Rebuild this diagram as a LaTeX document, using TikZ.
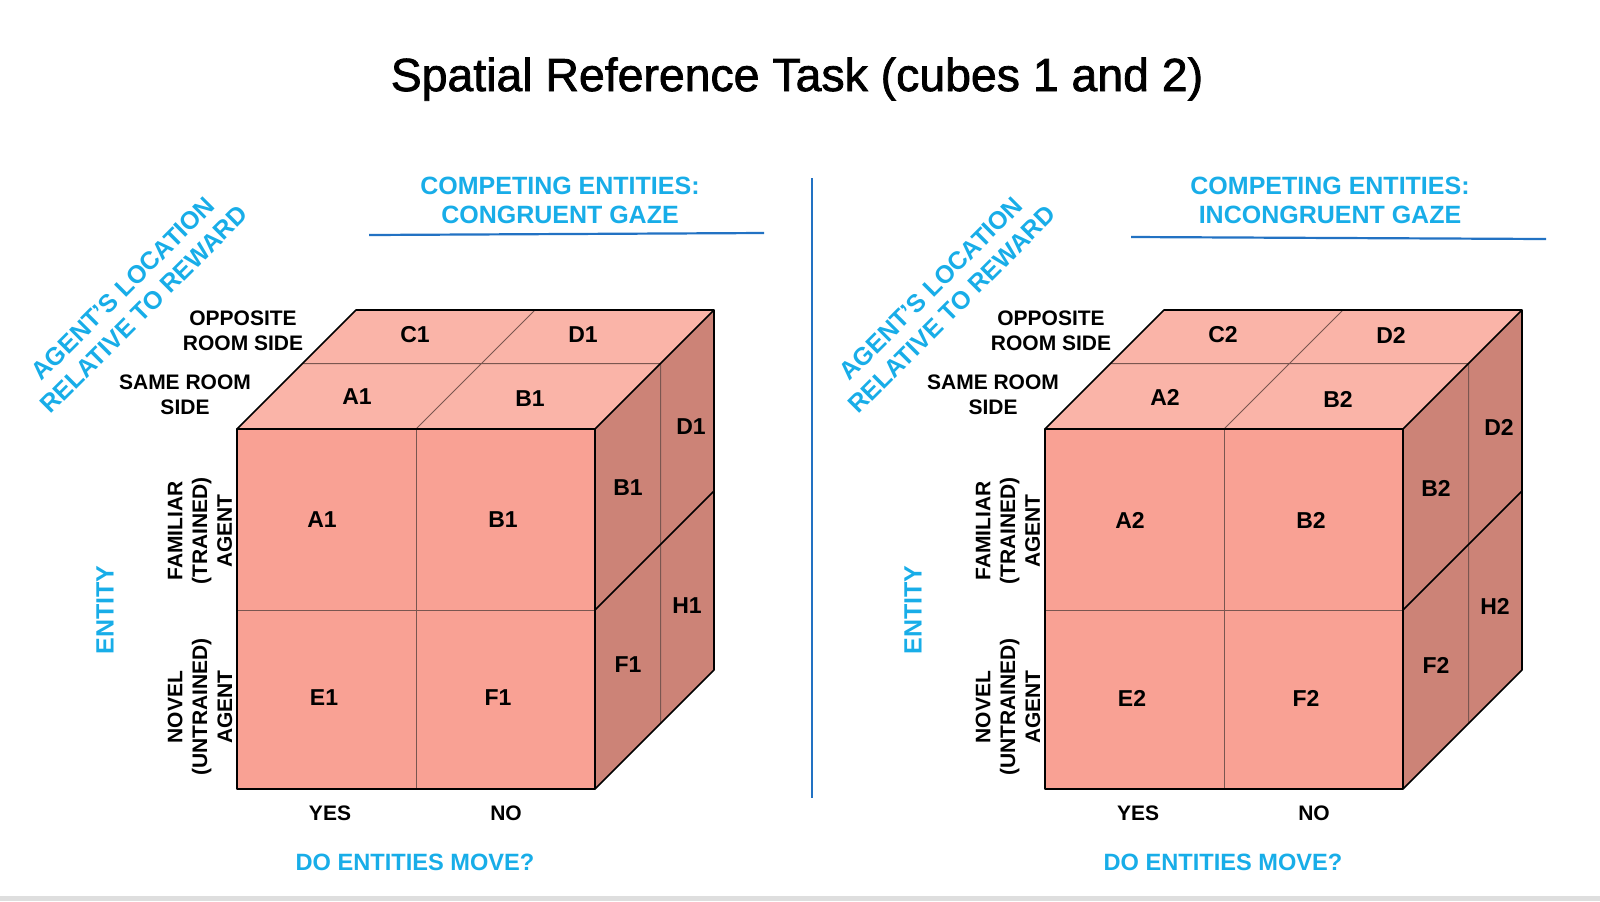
\documentclass[tikz,border=0pt]{standalone}
\usepackage{fontspec}
\setmainfont{Liberation Sans}
\newfontfamily\titlefont[FakeBold=1.6]{Liberation Sans}
\definecolor{frontface}{HTML}{F9A194}
\definecolor{topface}{HTML}{FAB4A8}
\definecolor{sideface}{HTML}{CC8377}
\definecolor{gridline}{HTML}{7A5650}
\definecolor{entblue}{HTML}{18ADE8}
\definecolor{ruleblue}{HTML}{2272C3}

\begin{document}
\begin{tikzpicture}[x=0.5pt, y=-0.5pt,
  lab/.style={font=\bfseries\fontsize{10.5}{12.4}\selectfont, align=center, inner sep=0},
  cell/.style={font=\bfseries\fontsize{11.5}{13}\selectfont, inner sep=0},
  axis/.style={font=\bfseries\fontsize{12.5}{14.8}\selectfont, text=entblue, align=center, inner sep=0},
  cubeedge/.style={draw=black, line width=0.8pt, line join=round},
  innerline/.style={draw=gridline, line width=0.5pt},
  blueline/.style={draw=ruleblue, line width=1.1pt}]
  \useasboundingbox (0,0) rectangle (1600,901);
  \fill[black!13] (0,896) rectangle (1600,901);

  \node[font=\titlefont\fontsize{23.2}{27}\selectfont, anchor=base] (title) at (797,91) {Spatial Reference Task (cubes 1 and 2)};

  \foreach \c/\dx/\hx/\gaze/\la/\lb/\ra/\rb in {1/0/560/CONGRUENT/369/235/764/233, 2/808/1330/INCONGRUENT/1131/237/1546/239} {
    \node[axis] (head\c) at (\hx,200.5) {COMPETING ENTITIES:\\\gaze\ GAZE};
    \draw[blueline] (\la,\lb) -- (\ra,\rb);
    \begin{scope}[shift={(\dx,0)}]
      \fill[frontface] (237,429) rectangle (595,789);
      \fill[topface] (237,429) -- (356,310) -- (714,310) -- (595,429) -- cycle;
      \fill[sideface] (595,429) -- (714,310) -- (714,670) -- (595,789) -- cycle;
      \draw[innerline] (416,429) -- (416,789) (237,610) -- (595,610);
      \draw[innerline] (416,429) -- (535,310) (302.5,363.5) -- (660.5,363.5) -- (660.5,723.5);
      \draw[cubeedge] (595,610) -- (714,491);
      \draw[cubeedge] (237,429) rectangle (595,789);
      \draw[cubeedge] (237,429) -- (356,310) -- (714,310) -- (714,670) -- (595,789) (595,429) -- (714,310);

      \node[cell] (tc\c) at (415,335) {C\c};
      \node[cell] (td\c) at (583,335) {D\c};
      \node[cell] (ta\c) at (357,397) {A\c};
      \node[cell] (tb\c) at (530,399) {B\c};
      \node[cell] (fa\c) at (322,520) {A\c};
      \node[cell] (fb\c) at (503,520) {B\c};
      \node[cell] (fe\c) at (324,698) {E\c};
      \node[cell] (ff\c) at (498,698) {F\c};
      \node[cell] (sd\c) at (691,427) {D\c};
      \node[cell] (sb\c) at (628,488) {B\c};
      \node[cell] (sh\c) at (687,606) {H\c};
      \node[cell] (sf\c) at (628,665) {F\c};

      \node[lab] (opp\c) at (243,331) {OPPOSITE\\ROOM SIDE};
      \node[lab] (same\c) at (185,395) {SAME ROOM\\SIDE};
      \node[lab, rotate=90] (fam\c) at (200,531) {FAMILIAR\\(TRAINED)\\AGENT};
      \node[lab, rotate=90] (nov\c) at (200,707) {NOVEL\\(UNTRAINED)\\AGENT};
      \node[lab] (yes\c) at (330,813) {YES};
      \node[lab] (no\c) at (506,813) {NO};
      \node[axis, rotate=90] (ent\c) at (105,610) {ENTITY};
      \node[axis, font=\bfseries\fontsize{11.8}{14}\selectfont] (move\c) at (415,862) {DO ENTITIES MOVE?};
      \node[axis, rotate=45] (loc\c) at (133.5,299) {AGENT’S LOCATION\\RELATIVE TO REWARD};
    \end{scope}
  }
  \draw[blueline, line width=1pt] (812,178) -- (812,798);
\end{tikzpicture}
\end{document}
